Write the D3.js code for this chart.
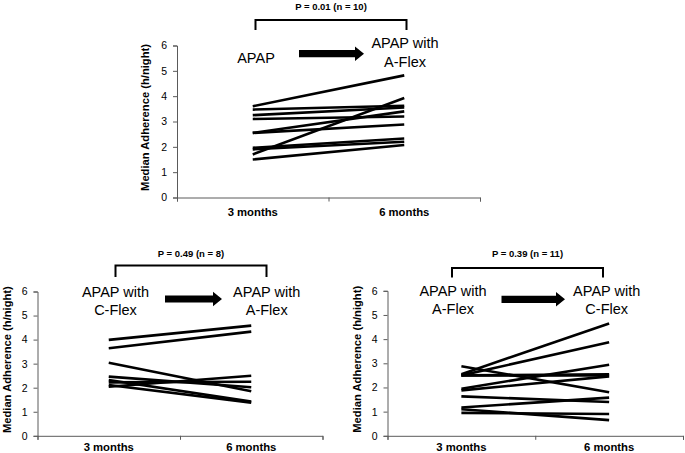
<!DOCTYPE html>
<html>
<head>
<meta charset="utf-8">
<script src="https://cdn.jsdelivr.net/npm/d3@7"></script>
<style>
  html, body { margin: 0; padding: 0; background: #fff; }
  svg { display: block; font-family: "Liberation Sans", Arial, sans-serif; }
</style>
</head>
<body>
<svg id="chart" width="685" height="453"></svg>
<script>
// ---- data ----
const timepoints = ["3 months", "6 months"];
const yTicks = [0, 1, 2, 3, 4, 5, 6];
const yTitle = "Median Adherence (h/night)";

// Panel A: APAP -> APAP with A-Flex (n = 10)
const panelA_3mo = [3.6, 3.47, 3.25, 3.1, 2.55, 2.55, 1.96, 1.9, 1.7, 1.5];
const panelA_6mo = [4.82, 3.62, 3.55, 3.2, 3.4, 2.88, 2.33, 2.2, 3.93, 2.07];
const panelA_from = ["APAP"];
const panelA_to = ["APAP with", "A-Flex"];
const panelA_stat = "P = 0.01 (n = 10)";

// Panel B: APAP with C-Flex -> APAP with A-Flex (n = 8)
const panelB_3mo = [3.99, 3.64, 3.04, 2.46, 2.32, 2.22, 2.11, 2.04];
const panelB_6mo = [4.58, 4.33, 1.85, 2.02, 1.42, 2.25, 1.38, 2.5];
const panelB_from = ["APAP with", "C-Flex"];
const panelB_to = ["APAP with", "A-Flex"];
const panelB_stat = "P = 0.49 (n = 8)";

// Panel C: APAP with A-Flex -> APAP with C-Flex (n = 11)
const panelC_3mo = [2.88, 2.55, 2.5, 2.5, 2.5, 1.95, 1.88, 1.63, 1.17, 1.1, 0.95];
const panelC_6mo = [1.8, 4.65, 3.87, 2.5, 2.54, 2.94, 2.46, 1.4, 1.58, 0.65, 0.9];
const panelC_from = ["APAP with", "A-Flex"];
const panelC_to = ["APAP with", "C-Flex"];
const panelC_stat = "P = 0.39 (n = 11)";

// ---- layout ----
const panels = [
  { v3: panelA_3mo, v6: panelA_6mo, from: panelA_from, to: panelA_to, stat: panelA_stat,
    x0: 177, x1: 480, yTop: 45.5, yBot: 197.5, titleX: 145, catPad: 10,
    bracket: { x0: 255.5, x1: 406.5, top: 20, bot: 30, textY: 10 },
    fromPos: { x: 256, y: 63.3 }, toPos: { x: 405, y: 48.3 },
    arrow: { x0: 299, x1: 364, y: 53.7 } },
  { v3: panelB_3mo, v6: panelB_6mo, from: panelB_from, to: panelB_to, stat: panelB_stat,
    x0: 37.5, x1: 322.5, yTop: 291.5, yBot: 435.8, titleX: 7, catPad: 7.5,
    bracket: { x0: 115.5, x1: 266.5, top: 265.5, bot: 277, textY: 256.5 },
    fromPos: { x: 115.5, y: 296.7 }, toPos: { x: 266.7, y: 296.7 },
    arrow: { x0: 165, x1: 222, y: 299 } },
  { v3: panelC_3mo, v6: panelC_6mo, from: panelC_from, to: panelC_to, stat: panelC_stat,
    x0: 387.5, x1: 683, yTop: 290.8, yBot: 435.8, titleX: 357, catPad: 7.5,
    bracket: { x0: 452, x1: 603, top: 268, bot: 277.5, textY: 256.5 },
    fromPos: { x: 453, y: 295.8 }, toPos: { x: 606.7, y: 295.8 },
    arrow: { x0: 501.5, x1: 565, y: 299.3 } }
];

const svg = d3.select("#chart");
const axisColor = "#5a5a5a";

panels.forEach(p => {
  const g = svg.append("g");
  const x = d3.scaleBand().domain(timepoints).range([p.x0, p.x1]).padding(0);
  const y = d3.scaleLinear().domain([0, 6]).range([p.yBot, p.yTop]);

  // y axis
  const ya = g.append("g").attr("transform", `translate(${p.x0},0)`)
    .call(d3.axisLeft(y).tickValues(yTicks).tickSize(4).tickPadding(6).tickFormat(d3.format("d")));
  ya.select(".domain").attr("stroke", axisColor).attr("stroke-width", 1);
  ya.selectAll(".tick line").attr("stroke", axisColor);
  ya.selectAll(".tick text").attr("font-size", 10.5).attr("fill", "#000")
    .attr("font-family", "Liberation Sans, Arial, sans-serif");

  // x axis: boundary ticks
  const xb = d3.scaleLinear().domain([0, timepoints.length]).range([p.x0, p.x1]);
  const xt = g.append("g").attr("transform", `translate(0,${p.yBot})`)
    .call(d3.axisBottom(xb).tickValues(d3.range(timepoints.length + 1)).tickSize(4).tickFormat(""));
  xt.select(".domain").attr("stroke", axisColor).attr("stroke-width", 1);
  xt.selectAll(".tick line").attr("stroke", axisColor);

  // x axis: category labels
  const xl = g.append("g").attr("transform", `translate(0,${p.yBot})`)
    .call(d3.axisBottom(x).tickSize(0).tickPadding(p.catPad));
  xl.select(".domain").remove();
  xl.selectAll(".tick text").attr("font-size", 11.3).attr("font-weight", "bold").attr("fill", "#000")
    .attr("font-family", "Liberation Sans, Arial, sans-serif");

  // y title
  g.append("text")
    .attr("transform", `translate(${p.titleX},${(p.yTop + p.yBot) / 2 - 4}) rotate(-90)`)
    .attr("text-anchor", "middle").attr("dy", "0.36em")
    .attr("font-size", 11.2).attr("font-weight", "bold").text(yTitle);

  // lines
  const pairs = p.v3.map((v, i) => [v, p.v6[i]]);
  g.selectAll("line.subj").data(pairs).join("line")
    .attr("class", "subj")
    .attr("x1", x(timepoints[0]) + x.bandwidth() / 2)
    .attr("x2", x(timepoints[1]) + x.bandwidth() / 2)
    .attr("y1", d => y(d[0]))
    .attr("y2", d => y(d[1]))
    .attr("stroke", "#000").attr("stroke-width", 2.6);

  // bracket
  const b = p.bracket;
  g.append("path")
    .attr("d", `M${b.x0},${b.bot}V${b.top}H${b.x1}V${b.bot}`)
    .attr("fill", "none").attr("stroke", "#000").attr("stroke-width", 2);
  g.append("text").attr("x", (b.x0 + b.x1) / 2).attr("y", b.textY)
    .attr("text-anchor", "middle").attr("font-size", 9.5).attr("font-weight", "bold").text(p.stat);

  // condition labels
  const addLabel = (lines, pos) => {
    const t = g.append("text").attr("text-anchor", "middle").attr("font-size", 14.5);
    lines.forEach((s, i) => t.append("tspan").attr("x", pos.x).attr("y", pos.y + i * 18.3).text(s));
  };
  addLabel(p.from, p.fromPos);
  addLabel(p.to, p.toPos);

  // arrow
  const a = p.arrow, hl = 9, bh = 3.6, hh = 7.2;
  g.append("path")
    .attr("d", `M${a.x0},${a.y - bh}H${a.x1 - hl}V${a.y - hh}L${a.x1},${a.y}L${a.x1 - hl},${a.y + hh}V${a.y + bh}H${a.x0}Z`)
    .attr("fill", "#000");
});
</script>
</body>
</html>
